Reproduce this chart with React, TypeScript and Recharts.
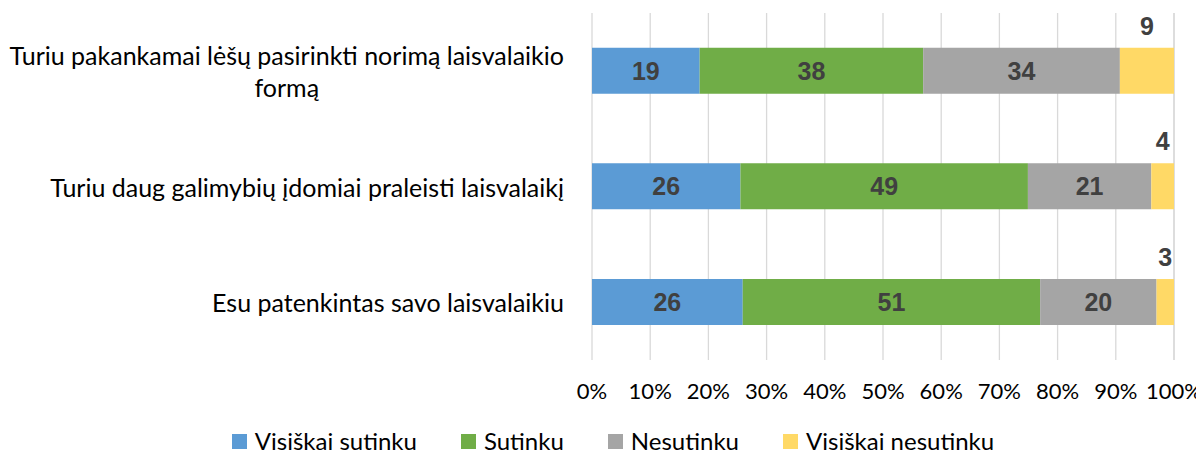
import React from 'react';
import { BarChart, Bar, XAxis, YAxis, CartesianGrid, LabelList, Legend } from 'recharts';

const categories = [
  'Turiu pakankamai lėšų pasirinkti norimą laisvalaikio formą',
  'Turiu daug galimybių įdomiai praleisti laisvalaikį',
  'Esu patenkintas savo laisvalaikiu',
];
const seriesNames = ['Visiškai sutinku', 'Sutinku', 'Nesutinku', 'Visiškai nesutinku'];
const visiskaiSutinku = [18.5, 25.5, 25.9];
const sutinku = [38.4, 49.4, 51.1];
const nesutinku = [33.8, 21.2, 20.0];
const visiskaiNesutinku = [9.3, 3.9, 3.0];
const xTicks = [0, 10, 20, 30, 40, 50, 60, 70, 80, 90, 100];

const colors = ['#5B9BD5', '#70AD47', '#A5A5A5', '#FFD966'];
const keys = ['s1', 's2', 's3', 's4'];

const data = categories.map((c, i) => ({
  name: c,
  s1: visiskaiSutinku[i],
  s2: sutinku[i],
  s3: nesutinku[i],
  s4: visiskaiNesutinku[i],
}));

const TEXT_FONT = "Lato, 'Open Sans', sans-serif";
const LABEL_FONT = "'Liberation Sans', Arial, sans-serif";
const CAT_SIZE = 25;

let ctx: CanvasRenderingContext2D | null = null;
function measure(t: string, size: number) {
  if (!ctx) ctx = document.createElement('canvas').getContext('2d');
  if (!ctx) return t.length * size * 0.5;
  ctx.font = `${size}px Lato`;
  return ctx.measureText(t).width;
}
function wrap(text: string, maxW: number, size: number) {
  const words = text.split(' ');
  const lines: string[] = [];
  let cur = '';
  for (const w of words) {
    const t = cur ? cur + ' ' + w : w;
    if (cur && measure(t, size) > maxW) {
      lines.push(cur);
      cur = w;
    } else cur = t;
  }
  if (cur) lines.push(cur);
  return lines;
}

const YTick = (props: any) => {
  const { x, y, payload } = props;
  const lines = wrap(String(payload.value), 565, CAT_SIZE);
  const lh = 32;
  if (lines.length === 1) {
    return (
      <text x={x} y={y} textAnchor="end" dominantBaseline="central" fontFamily={TEXT_FONT} fontSize={CAT_SIZE} fill="#000">
        {lines[0]}
      </text>
    );
  }
  const maxW = Math.max(...lines.map((l) => measure(l, CAT_SIZE)));
  const cx = x - maxW / 2;
  return (
    <g>
      {lines.map((l, i) => (
        <text key={i} x={cx} y={y + (i - (lines.length - 1) / 2) * lh} textAnchor="middle" dominantBaseline="central" fontFamily={TEXT_FONT} fontSize={CAT_SIZE} fill="#000">
          {l}
        </text>
      ))}
    </g>
  );
};

const LegendContent = () => (
  <div style={{ display: 'flex', justifyContent: 'center', alignItems: 'center', height: 26, lineHeight: '26px', fontFamily: TEXT_FONT, fontSize: 24, color: '#000', paddingLeft: 44 }}>
    {seriesNames.map((n, i) => (
      <div key={n} style={{ display: 'flex', alignItems: 'center', marginRight: i < seriesNames.length - 1 ? 44 : 0 }}>
        <span style={{ display: 'inline-block', width: 15, height: 15, background: colors[i], marginRight: 8 }} />
        <span>{n}</span>
      </div>
    ))}
  </div>
);

export default function App() {
  return (
    <div style={{ width: 1196, height: 446 }}>
      <style>{'html,body{overflow:hidden}'}</style>
      <BarChart
        width={1196}
        height={446}
        data={data}
        layout="vertical"
        margin={{ top: 5, right: 30, bottom: 0, left: 0 }}
        barCategoryGap="30%"
      >
        <CartesianGrid horizontal={false} stroke="#D9D9D9" strokeWidth={1.3} />
        <XAxis
          type="number"
          domain={[0, 100]}
          ticks={xTicks}
          tickFormatter={(v: number) => `${v}%`}
          axisLine={false}
          tickLine={false}
          tickSize={0}
          tickMargin={23}
          height={68}
          interval={0}
          tick={{ fontFamily: TEXT_FONT, fontSize: 22, fill: '#000' }}
        />
        <YAxis
          type="category"
          dataKey="name"
          width={584}
          axisLine={false}
          tickLine={false}
          tickSize={0}
          tickMargin={28}
          tick={<YTick />}
        />
        <Legend verticalAlign="bottom" height={26} content={<LegendContent />} />
        {keys.map((k, i) => (
          <Bar key={k} dataKey={k} name={seriesNames[i]} stackId="a" fill={colors[i]} isAnimationActive={false}>
            <LabelList
              dataKey={k}
              position={i === 3 ? 'top' : 'center'}
              offset={13}
              formatter={(v: number) => Math.round(v)}
              style={{ fontFamily: LABEL_FONT, fontSize: 25, fontWeight: 'bold', fill: '#404040' }}
            />
          </Bar>
        ))}
      </BarChart>
    </div>
  );
}
